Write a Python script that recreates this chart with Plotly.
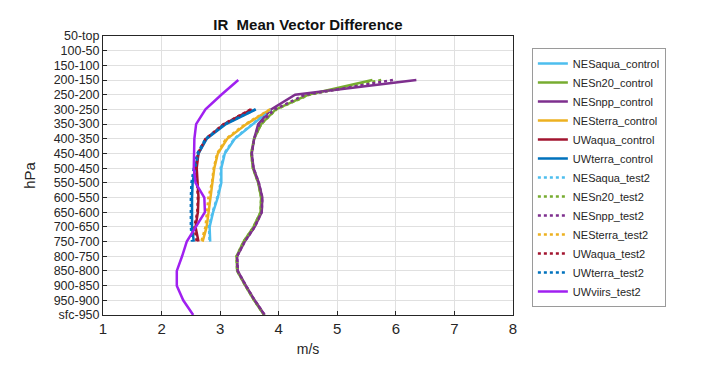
import plotly.graph_objects as go

# pressure layers, top of the chart first
levels = ["50-top", "100-50", "150-100", "200-150", "250-200", "300-250", "350-300",
          "400-350", "450-400", "500-450", "550-500", "600-550", "650-600", "700-650",
          "750-700", "800-750", "850-800", "900-850", "950-900", "sfc-950"]

# values listed for layers "200-150" down to "sfc-950" (None = no data)
data_levels = levels[3:]

NESaqua_control = [None, None, 3.87, 3.56, 3.25, 3.08, 3.02, 3.02, 2.96, 2.88, 2.82, 2.83, None, None, None, None, None]
NESn20_control  = [5.60, 4.50, 3.95, 3.70, 3.58, 3.53, 3.56, 3.65, 3.70, 3.69, 3.57, 3.40, 3.28, 3.29, 3.43, 3.58, 3.75]
NESnpp_control  = [6.35, 4.28, 3.87, 3.65, 3.58, 3.54, 3.57, 3.66, 3.72, 3.71, 3.59, 3.42, 3.29, 3.30, 3.44, 3.59, 3.76]
NESterra_control = [None, None, 3.86, 3.45, 3.12, 2.96, 2.90, 2.87, 2.83, 2.80, 2.77, 2.70, None, None, None, None, None]
UWaqua_control  = [None, None, 3.54, 3.07, 2.76, 2.63, 2.60, 2.62, 2.63, 2.62, 2.58, 2.63, None, None, None, None, None]
UWterra_control = [None, None, 3.61, 3.10, 2.77, 2.63, 2.57, 2.53, 2.52, 2.52, 2.52, 2.55, None, None, None, None, None]
NESaqua_test2   = [None, None, 3.86, 3.55, 3.24, 3.07, 3.01, 3.01, 2.95, 2.87, 2.81, 2.82, None, None, None, None, None]
NESn20_test2    = [5.75, 4.52, 3.96, 3.70, 3.58, 3.53, 3.56, 3.65, 3.70, 3.69, 3.57, 3.40, 3.28, 3.29, 3.43, 3.58, 3.75]
NESnpp_test2    = [5.95, 4.45, 3.93, 3.67, 3.58, 3.54, 3.57, 3.66, 3.72, 3.71, 3.59, 3.42, 3.29, 3.30, 3.44, 3.59, 3.76]
NESterra_test2  = [None, None, 3.85, 3.43, 3.10, 2.95, 2.89, 2.86, 2.80, 2.77, 2.75, 2.68, None, None, None, None, None]
UWaqua_test2    = [None, None, 3.52, 3.06, 2.75, 2.62, 2.59, 2.61, 2.62, 2.61, 2.56, 2.60, None, None, None, None, None]
UWterra_test2   = [None, None, 3.60, 3.08, 2.75, 2.61, 2.55, 2.51, 2.50, 2.50, 2.50, 2.52, None, None, None, None, None]
UWviirs_test2   = [3.31, 3.02, 2.75, 2.59, 2.56, 2.55, 2.55, 2.58, 2.73, 2.74, 2.59, 2.43, 2.35, 2.26, 2.26, 2.37, 2.54]

series = [
    ("NESaqua_control", NESaqua_control, "#4DBEEE", "solid"),
    ("NESn20_control", NESn20_control, "#77AC30", "solid"),
    ("NESnpp_control", NESnpp_control, "#7E2F8E", "solid"),
    ("NESterra_control", NESterra_control, "#EDB120", "solid"),
    ("UWaqua_control", UWaqua_control, "#A2142F", "solid"),
    ("UWterra_control", UWterra_control, "#0072BD", "solid"),
    ("NESaqua_test2", NESaqua_test2, "#4DBEEE", "dot"),
    ("NESn20_test2", NESn20_test2, "#77AC30", "dot"),
    ("NESnpp_test2", NESnpp_test2, "#7E2F8E", "dot"),
    ("NESterra_test2", NESterra_test2, "#EDB120", "dot"),
    ("UWaqua_test2", UWaqua_test2, "#A2142F", "dot"),
    ("UWterra_test2", UWterra_test2, "#0072BD", "dot"),
    ("UWviirs_test2", UWviirs_test2, "#A020F0", "solid"),
]

x_ticks = [1, 2, 3, 4, 5, 6, 7, 8]

fig = go.Figure()
for name, vals, color, dash in series:
    fig.add_trace(go.Scatter(
        x=vals, y=data_levels, name=name, mode="lines",
        line=dict(color=color, width=2.5, dash=dash),
        connectgaps=False,
    ))

axis_color = "#262626"
fig.update_layout(
    width=704, height=358,
    margin=dict(l=95, r=199, t=28, b=51),
    paper_bgcolor="white", plot_bgcolor="white",
    font=dict(family="Liberation Sans, Arial, sans-serif", color=axis_color, size=15),
    title=dict(text="<b>IR  Mean Vector Difference</b>", x=0.426, xanchor="center",
               yref="container", y=0.952, yanchor="middle",
               font=dict(size=15, color="#111111")),
    xaxis=dict(range=[1, 8], tickvals=x_ticks, showgrid=True, gridcolor="#e0e0e0",
               showline=True, linecolor=axis_color, mirror=True, ticks="inside",
               ticklen=4, tickcolor=axis_color, zeroline=False, automargin=False,
               title=dict(text="m/s", standoff=8, font=dict(size=14))),
    yaxis=dict(type="category", categoryorder="array", categoryarray=levels[::-1],
               tickmode="array", tickvals=levels, ticktext=levels,
               range=[0, 19], showgrid=True, gridcolor="#e0e0e0",
               showline=True, linecolor=axis_color, mirror=True, ticks="inside",
               ticklen=4, tickcolor=axis_color, zeroline=False, automargin=False,
               tickfont=dict(size=12.5),
               title=dict(text="hPa", standoff=14, font=dict(size=15))),
    legend=dict(x=1.046, xanchor="left", y=0.957, yanchor="top",
                bordercolor="#9a9a9a", borderwidth=1, bgcolor="white",
                font=dict(size=11, color=axis_color), tracegroupgap=0),
)

fig.write_html("out.html")
